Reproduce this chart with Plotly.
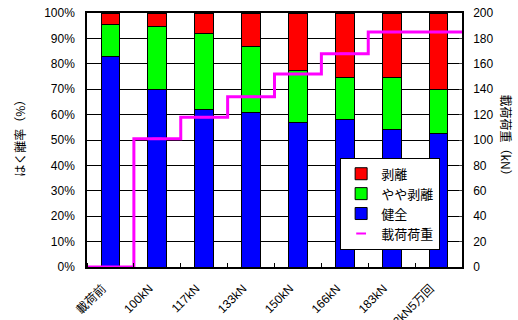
import plotly.graph_objects as go

categories = ["載荷前", "100kN", "117kN", "133kN", "150kN", "166kN", "183kN", "183kN5万回"]
healthy = [83, 70, 62, 61, 57, 58, 54, 52.5]          # 健全 (%)
partial = [12.5, 24.5, 30, 26, 20.5, 16.5, 20.5, 17.5]  # やや剥離 (%)
peeled = [4.5, 5.5, 8, 13, 22.5, 25.5, 25.5, 30]        # 剥離 (%)
load = [0, 101, 118, 134, 152, 168, 185, 185]           # 載荷荷重 (kN)

FONT = "Liberation Sans, Arial, Noto Sans CJK JP, sans-serif"
JFONT = "Noto Sans CJK JP, sans-serif"

idx = list(range(len(categories)))
fig = go.Figure()
outline = dict(color="#000000", width=1)
fig.add_trace(go.Bar(x=idx, y=healthy, name="健全", marker=dict(color="#0000FF", line=outline), width=0.4, legendrank=3))
fig.add_trace(go.Bar(x=idx, y=partial, name="やや剥離", marker=dict(color="#00FF00", line=outline), width=0.4, legendrank=2))
fig.add_trace(go.Bar(x=idx, y=peeled, name="剥離", marker=dict(color="#FF0000", line=outline), width=0.4, legendrank=1))

# step line spanning full category width
lx = [idx[0] - 0.5] + idx + [idx[-1] + 0.5]
ly = [load[0]] + load + [load[-1]]
fig.add_trace(go.Scatter(x=lx, y=ly, yaxis="y2", mode="lines", line=dict(color="#FF00FF", width=3, shape="hvh"),
                         showlegend=False, hoverinfo="skip"))
fig.add_trace(go.Scatter(x=idx, y=load, yaxis="y2", mode="markers", name="載荷荷重",
                         marker=dict(symbol="line-ew", size=7, line=dict(color="#FF00FF", width=2)),
                         legendrank=4))

fig.update_layout(
    width=518, height=320,
    margin=dict(l=87, r=56, t=13, b=53, autoexpand=False),
    barmode="stack",
    paper_bgcolor="white", plot_bgcolor="white",
    font=dict(family=FONT, size=12, color="#000000"),
    showlegend=True,
    legend=dict(x=0.675, y=0.43, xanchor="left", yanchor="top", bgcolor="white",
                bordercolor="#000000", borderwidth=1, font=dict(family=JFONT, size=13),
                tracegroupgap=0, itemwidth=30, traceorder="normal"),
    xaxis=dict(range=[-0.5, len(categories) - 0.5], tickvals=idx, ticktext=categories, tickangle=-45,
               showgrid=False, showline=True, linecolor="#000000", linewidth=1.5, mirror=True,
               ticks="", zeroline=False, tickfont=dict(family=FONT, size=12), automargin=False,
               ticklabelshift=-8, ticklabelstandoff=8,
               minor=dict(tick0=0.5, dtick=1, ticks="inside", ticklen=4, tickcolor="#000000", showgrid=False)),
    yaxis=dict(range=[0, 100], dtick=10, ticksuffix="%", showgrid=True, gridcolor="#000000", gridwidth=1,
               showline=True, linecolor="#000000", linewidth=1.5, ticks="", zeroline=False,
               tickfont=dict(size=12), automargin=False, ticklabelstandoff=8),
    yaxis2=dict(range=[0, 200], dtick=20, overlaying="y", side="right", showgrid=False,
                showline=True, linecolor="#000000", linewidth=1.5, ticks="inside", ticklen=3,
                zeroline=False, tickfont=dict(size=12), automargin=False, ticklabelstandoff=7),
    annotations=[
        dict(text="はく離率（%）", xref="paper", yref="paper", x=-0.179, y=0.52, textangle=-90,
             xanchor="center", yanchor="middle", showarrow=False, font=dict(family=JFONT, size=12)),
        dict(text="載荷荷重（kN）", xref="paper", yref="paper", x=1.12, y=0.51, textangle=90,
             xanchor="center", yanchor="middle", showarrow=False, font=dict(family=JFONT, size=12)),
    ],
)
fig.write_html("out.html")
